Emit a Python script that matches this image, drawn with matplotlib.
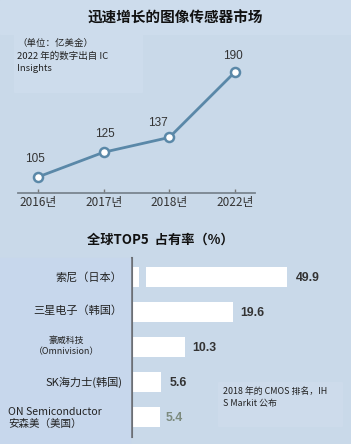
import numpy as np
import matplotlib
matplotlib.use("Agg")
import matplotlib.pyplot as plt
from matplotlib.patches import Rectangle

plt.rcParams['font.family'] = ['Noto Sans CJK SC', 'DejaVu Sans']

# market size (100M USD)
years = ['2016년', '2017년', '2018년', '2022년']
market = [105, 125, 137, 190]

# top5 share (%)
companies = ['索尼（日本）', '三星电子（韩国）', '豪威科技\n（Omnivision）',
             'SK海力士(韩国)', 'ON Semiconductor\n安森美（美国）']
share = [49.9, 19.6, 10.3, 5.6, 5.4]

W, H = 351, 444
BG = '#c9d9e9'
LINE = '#5a88a8'
TXT = '#333333'

fig = plt.figure(figsize=(W / 100, H / 100), dpi=100, facecolor=BG)


def px_axes(x0, y0, x1, y1):
    # axes placed by pixel box (top-left origin)
    return fig.add_axes([x0 / W, 1 - y1 / H, (x1 - x0) / W, (y1 - y0) / H])


# light panels behind some texts
fig.patches.append(Rectangle((0, 1 - 34 / H), 1, 34 / H, transform=fig.transFigure,
                             color='#cddcec', zorder=0))
fig.patches.append(Rectangle((14 / W, 1 - 92 / H), 128 / W, 58 / H, transform=fig.transFigure,
                             color='#cddcec', zorder=0))
fig.patches.append(Rectangle((0, 0), 130 / W, 1 - 258 / H, transform=fig.transFigure,
                             color='#c7d7ec', zorder=0))
fig.patches.append(Rectangle((218 / W, 1 - 426 / H), 124 / W, 44 / H, transform=fig.transFigure,
                             color='#cddbeb', zorder=0))

fig.text(175 / W, 1 - 18 / H, '迅速增长的图像传感器市场', ha='center', va='center',
         fontsize=10.5, fontweight='bold', color='#111111')
fig.text(17 / W, 1 - 39 / H, '（单位：亿美金）\n2022 年的数字出自 IC\nInsights', ha='left', va='top',
         fontsize=6.8, color='#222222', linespacing=1.42)

# ---- line chart ----
ax1 = px_axes(18, 50, 255, 193)
ax1.set_facecolor('none')
x = np.arange(len(years))
ax1.plot(x, market, color=LINE, lw=2.0, marker='o', ms=6.5, mfc='white',
         mec=LINE, mew=1.8, zorder=3)
ax1.set_xlim(-0.305, 3.305)
ax1.set_ylim(92.0, 207.8)
ax1.set_xticks(x)
ax1.set_xticklabels(years, family=['Noto Sans CJK KR'], fontsize=8.5, color=TXT)
ax1.tick_params(axis='x', direction='in', length=3, width=1, color='#777777', pad=2)
ax1.set_yticks([])
for s in ['top', 'right', 'left']:
    ax1.spines[s].set_visible(False)
ax1.spines['bottom'].set_color('#7a8590')
ax1.spines['bottom'].set_linewidth(1.3)
offs = [(-0.05, 10), (0.02, 10), (-0.17, 7), (-0.03, 8)]
for xi, v, (dx, dy) in zip(x, market, offs):
    ax1.text(xi + dx, v + dy, str(v), ha='center', va='bottom', fontsize=8.5,
             family=['Liberation Sans'], color=TXT)

# ---- bar chart ----
fig.text(160 / W, 1 - 240 / H, '全球TOP5  占有率（%）', ha='center', va='center',
         fontsize=9.5, fontweight='bold', color='#111111')

ax2 = px_axes(132, 258, 345, 437)
ax2.set_facecolor('none')
hidden = 19.8  # broken scale on the first bar
shown = [share[0] - hidden] + share[1:]
y = np.arange(len(companies))
ax2.barh(y[1:], shown[1:], height=0.58, color='white', zorder=2)
ax2.broken_barh([(0, 1.3), (2.7, shown[0] - 2.7)], (y[0] - 0.29, 0.58),
                facecolors='white', zorder=2)
ax2.set_xlim(0, 41.4)
ax2.set_ylim(4.571, -0.543)
ax2.set_xticks([])
ax2.set_yticks([])
for s in ['top', 'right', 'bottom']:
    ax2.spines[s].set_visible(False)
ax2.spines['left'].set_color('#6b6f75')
ax2.spines['left'].set_linewidth(1.5)

lab_cols = [TXT, TXT, TXT, TXT, '#7c8a7e']
gaps = [1.7, 1.4, 1.5, 1.7, 1.1]
for yi, w, v, c, g in zip(y, shown, share, lab_cols, gaps):
    ax2.text(w + g, yi + 0.03, f'{v}', ha='left', va='center', fontsize=8.8,
             family=['Liberation Sans'], fontweight='bold', color=c)

# category labels
fig.text(122 / W, 1 - 277 / H, companies[0], ha='right', va='center', fontsize=8, color='#222222')
fig.text(122 / W, 1 - 311 / H, companies[1], ha='right', va='center', fontsize=8, color='#222222')
fig.text(66 / W, 1 - 346 / H, companies[2], ha='center', va='center', fontsize=6.4,
         color='#222222', linespacing=1.35)
fig.text(122 / W, 1 - 382 / H, companies[3], ha='right', va='center', fontsize=8, color='#222222')
fig.text(8 / W, 1 - 418 / H, companies[4], ha='left', va='center', fontsize=7.6,
         color='#222222', linespacing=1.3)

fig.text(223 / W, 1 - 397 / H, '2018 年的 CMOS 排名，IH\nS Markit 公布', ha='left', va='center',
         fontsize=6.4, color='#222222', linespacing=1.45)

fig.savefig('out.png', dpi=100, facecolor=BG)
